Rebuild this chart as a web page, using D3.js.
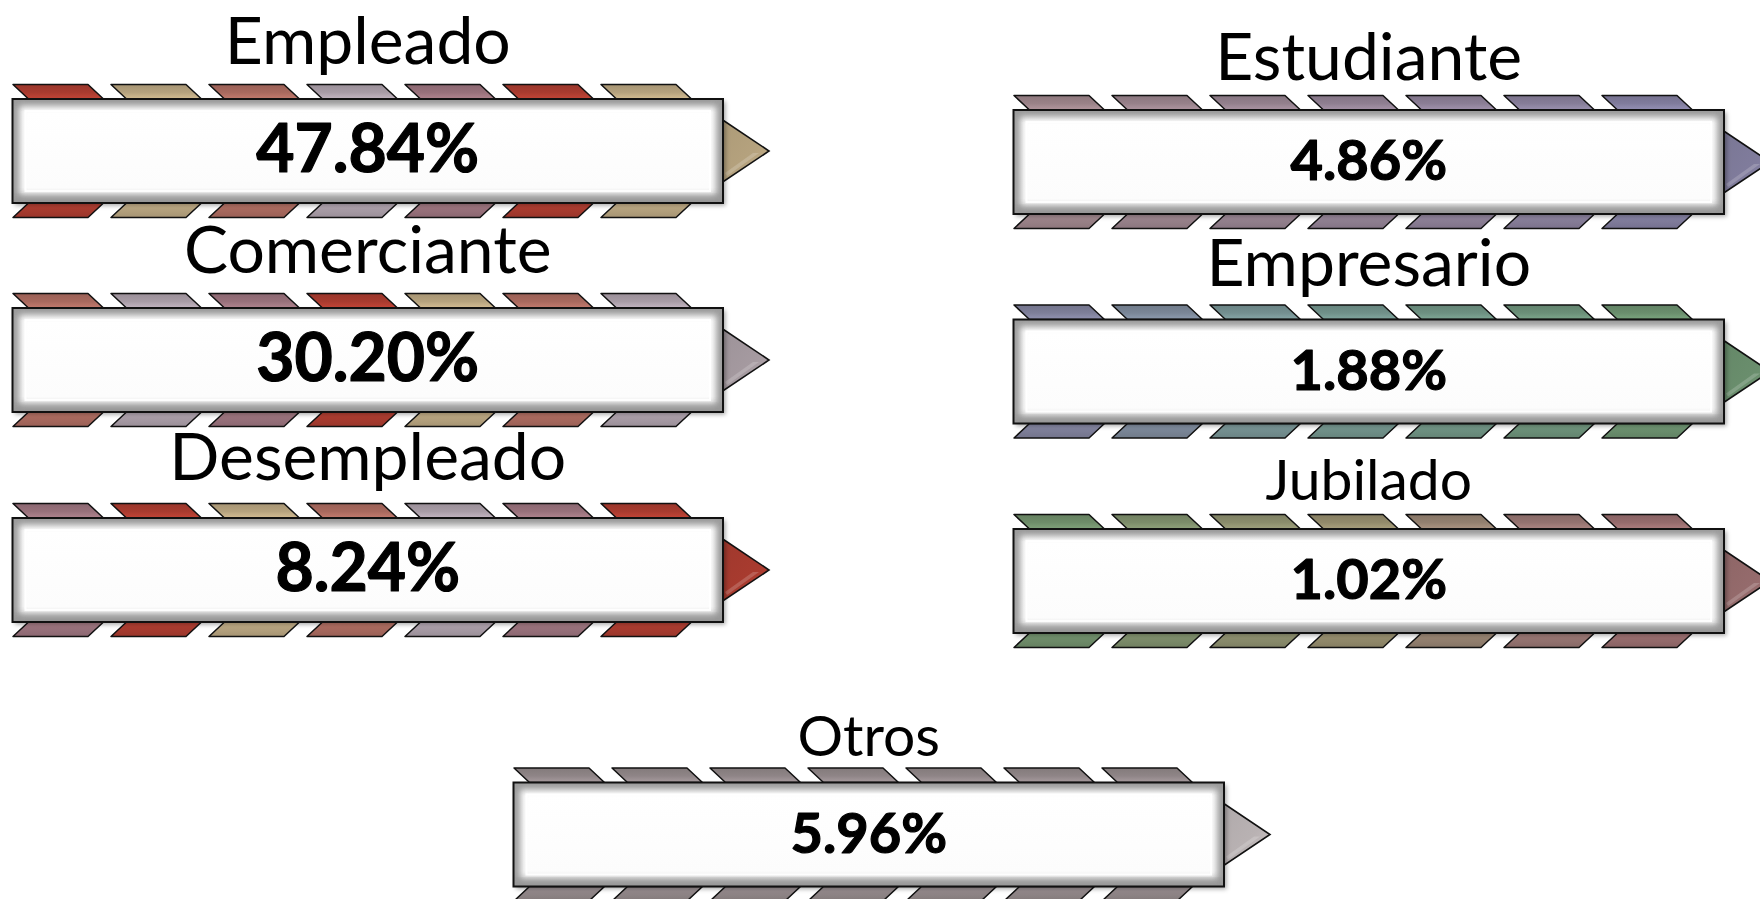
<!DOCTYPE html>
<html><head><meta charset="utf-8">
<script src="https://cdn.jsdelivr.net/npm/d3@7"></script>
<style>html,body{margin:0;padding:0;background:#fff;} svg{display:block;}</style>
</head><body>
<svg id="chart" width="1760" height="899"></svg>
<script>
// ---- data ----
const categories = ["Empleado", "Comerciante", "Desempleado", "Estudiante", "Empresario", "Jubilado", "Otros"];
const values = [47.84, 30.20, 8.24, 4.86, 1.88, 1.02, 5.96];

// ---- styles ----
const tabColors = [
  ["#a83b2f", "#b5a27e", "#a8695e", "#a89ca6", "#98717b", "#a83b2f", "#b5a27e"],
  ["#a8695e", "#a89ca6", "#98717b", "#a83b2f", "#b5a27e", "#a8695e", "#a89ca6"],
  ["#98717b", "#a83b2f", "#b5a27e", "#a8695e", "#a89ca6", "#98717b", "#a83b2f"],
  ["#9a8288", "#97818a", "#93808d", "#8f7f91", "#8b7e95", "#867d98", "#807c9c"],
  ["#7e7f99", "#7a8697", "#748f90", "#709089", "#6d9081", "#6b8f78", "#6a8e6d"],
  ["#6e8c69", "#7c8c6a", "#8a8c6c", "#928a6b", "#93806f", "#947370", "#956b6c"],
  ["#8f8587", "#8f8587", "#8f8587", "#8f8587", "#8f8587", "#8f8587", "#8f8587"]
];
const arrowColors = ["#b5a27e", "#a59aa0", "#a83b2f", "#807c9c", "#6a8e6d", "#956b6c", "#b9b2b3"];
const labelSizes = [66, 66, 66, 66, 66, 57, 57];
const valueSizes = [66, 66, 66, 56, 56, 56, 56];

// ---- layout ----
const panelX = [12.5, 12.5, 12.5, 1013.5, 1013.5, 1013.5, 513.5];
const panelY = [99, 308, 518, 110, 319.5, 529, 782.5];
const labelOffset = [35, 35, 38, 30, 34, 29, 27];
const W = 710.5, H = 104, tabW = 75, tabH = 14.5, slant = 15.5, nTabs = 7;

const svg = d3.select("#chart");
const defs = svg.append("defs");

// filters
const sh = defs.append("filter").attr("id", "shadow").attr("x", "-5%").attr("y", "-20%").attr("width", "110%").attr("height", "140%");
sh.append("feDropShadow").attr("dx", 2.5).attr("dy", 2.5).attr("stdDeviation", 2).attr("flood-color", "#000").attr("flood-opacity", 0.35);
const bl = defs.append("filter").attr("id", "blur").attr("x", "-10%").attr("y", "-30%").attr("width", "120%").attr("height", "160%");
bl.append("feGaussianBlur").attr("stdDeviation", 3.2);

const boxGrad = defs.append("linearGradient").attr("id", "boxGrad").attr("x1", 0).attr("y1", 0).attr("x2", 0).attr("y2", 1);
[["0%", "#efefef"], ["12%", "#ffffff"], ["85%", "#fcfcfc"], ["100%", "#dcdcdc"]].forEach(s =>
  boxGrad.append("stop").attr("offset", s[0]).attr("stop-color", s[1]));

// gradients per color
const allColors = Array.from(new Set(tabColors.flat().concat(arrowColors)));
const gid = c => c.replace("#", "");
allColors.forEach(c => {
  const base = d3.color(c);
  const gT = defs.append("linearGradient").attr("id", "gt" + gid(c)).attr("x1", 0).attr("y1", 0).attr("x2", 0).attr("y2", 1);
  gT.append("stop").attr("offset", "0%").attr("stop-color", base.darker(0.25));
  gT.append("stop").attr("offset", "55%").attr("stop-color", base);
  gT.append("stop").attr("offset", "100%").attr("stop-color", base.brighter(0.45));
  const gB = defs.append("linearGradient").attr("id", "gb" + gid(c)).attr("x1", 0).attr("y1", 1).attr("x2", 0).attr("y2", 0);
  gB.append("stop").attr("offset", "0%").attr("stop-color", base.darker(0.25));
  gB.append("stop").attr("offset", "55%").attr("stop-color", base);
  gB.append("stop").attr("offset", "100%").attr("stop-color", base.brighter(0.45));
  const gA = defs.append("linearGradient").attr("id", "ga" + gid(c)).attr("x1", 0).attr("y1", 0).attr("x2", 1).attr("y2", 1);
  gA.append("stop").attr("offset", "0%").attr("stop-color", base.darker(0.15));
  gA.append("stop").attr("offset", "60%").attr("stop-color", base);
  gA.append("stop").attr("offset", "100%").attr("stop-color", base.brighter(0.3));
});

const tabX = d3.scaleLinear().domain([0, nTabs - 1]).range([0.5, 0.5 + 98 * (nTabs - 1)]);
const fmt = d3.format(".2f");
const line = d3.line();

const panels = svg.selectAll("g.panel").data(categories.map((c, i) => ({ c, v: values[i], i })))
  .join("g").attr("class", "panel")
  .attr("transform", d => `translate(${panelX[d.i]},${panelY[d.i]})`);

panels.each(function (d) {
  const g = d3.select(this);
  const cols = tabColors[d.i];
  const cy = H / 2;
  // arrow
  g.append("path")
    .attr("d", line([[W - 4, cy - 33.5], [W + 46, cy], [W - 4, cy + 33.5]]) + "Z")
    .attr("fill", `url(#ga${gid(arrowColors[d.i])})`)
    .attr("stroke", "#111").attr("stroke-width", 1.6).attr("stroke-linejoin", "miter");
  g.append("path")
    .attr("d", line([[W + 2, cy + 22], [W + 30, cy + 2], [W + 36, cy + 2], [W + 4, cy + 25]]) + "Z")
    .attr("fill", "#fff").attr("opacity", 0.18);
  // top tabs
  g.selectAll("path.ttab").data(cols).join("path").attr("class", "ttab")
    .attr("d", (c, j) => {
      const x = tabX(j);
      return line([[x, -tabH], [x + tabW, -tabH], [x + tabW + slant, 0], [x + slant, 0]]) + "Z";
    })
    .attr("fill", c => `url(#gt${gid(c)})`)
    .attr("stroke", "#111").attr("stroke-width", 1.5).attr("stroke-linejoin", "round");
  // bottom tabs
  g.selectAll("path.btab").data(cols).join("path").attr("class", "btab")
    .attr("d", (c, j) => {
      const x = tabX(j);
      return line([[x + slant, H], [x + tabW + slant, H], [x + tabW, H + tabH], [x, H + tabH]]) + "Z";
    })
    .attr("fill", c => `url(#gb${gid(c)})`)
    .attr("stroke", "#111").attr("stroke-width", 1.5).attr("stroke-linejoin", "round");
  // box
  const clipId = "clip" + d.i;
  defs.append("clipPath").attr("id", clipId).append("rect").attr("width", W).attr("height", H);
  g.append("rect").attr("width", W).attr("height", H).attr("fill", "url(#boxGrad)").attr("filter", "url(#shadow)");
  const inner = g.append("g").attr("clip-path", `url(#${clipId})`);
  inner.append("rect").attr("x", 0).attr("y", 0).attr("width", W).attr("height", H)
    .attr("fill", "none").attr("stroke", "#848484").attr("stroke-width", 14).attr("filter", "url(#blur)").attr("opacity", 0.8);
  inner.append("rect").attr("x", 1).attr("y", H - 7).attr("width", W - 2).attr("height", 7)
    .attr("fill", "#959595").attr("filter", "url(#blur)").attr("opacity", 0.5);
  inner.append("rect").attr("x", 13).attr("y", 12).attr("width", W - 26).attr("height", H - 24)
    .attr("fill", "none").attr("stroke", "#ffffff").attr("stroke-width", 2).attr("opacity", 0.9);
  g.append("rect").attr("width", W).attr("height", H).attr("fill", "none")
    .attr("stroke", "#111").attr("stroke-width", 2);
  // texts
  g.append("text").attr("x", W / 2).attr("y", -labelOffset[d.i])
    .attr("text-anchor", "middle").attr("font-family", "Lato, 'Open Sans', sans-serif")
    .attr("font-size", labelSizes[d.i]).attr("fill", "#000").text(d.c);
  g.append("text").attr("x", W / 2).attr("y", H / 2 + 0.325 * valueSizes[d.i])
    .attr("text-anchor", "middle").attr("font-family", "Lato, 'Open Sans', sans-serif")
    .attr("font-weight", "bold").attr("font-size", valueSizes[d.i]).attr("fill", "#000")
    .attr("stroke", "#000").attr("stroke-width", 1.2).attr("stroke-linejoin", "round")
    .text(fmt(d.v) + "%");
});
</script>
</body></html>
